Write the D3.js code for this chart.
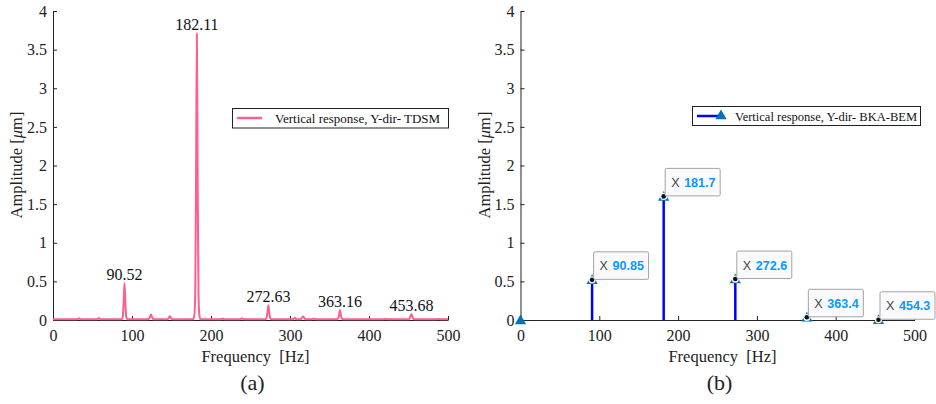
<!DOCTYPE html>
<html>
<head>
<meta charset="utf-8">
<script src="https://cdn.jsdelivr.net/npm/d3@7"></script>
<style>
  body { margin: 0; background: #fff; }
  svg { display: block; }
</style>
</head>
<body>
<svg width="936" height="404"></svg>
<script>
// (a) TDSM spectrum
const freqA = [0,
  31, 33, 35,
  56, 58, 60,
  86, 87.5, 88.5, 89.5, 90.5, 91.5, 92.5, 93.5, 95,
  121, 122.5, 124, 125.5, 127,
  145, 146.5, 148, 149.5, 151,
  177.6, 179.1, 180.1, 181.1, 182.1, 183.1, 184.1, 185.1, 186.6,
  213, 215, 217,
  237, 239, 241,
  268.1, 269.6, 270.6, 271.6, 272.6, 273.6, 274.6, 275.6, 277.1,
  304, 306, 308,
  313.5, 315, 316.5, 318, 319.5,
  328, 330, 332,
  358.7, 360.2, 361.2, 362.2, 363.2, 364.2, 365.2, 366.2, 367.7,
  419, 421, 423,
  450.7, 452.2, 453.7, 455.2, 456.7,
  486, 488, 490,
  500];
const ampA = [0.01,
  0.01, 0.022, 0.01,
  0.01, 0.025, 0.01,
  0.01, 0.015, 0.06, 0.25, 0.48, 0.25, 0.06, 0.015, 0.01,
  0.01, 0.035, 0.07, 0.035, 0.01,
  0.01, 0.025, 0.047, 0.025, 0.01,
  0.01, 0.08, 0.4, 1.9, 3.71, 1.9, 0.4, 0.08, 0.01,
  0.01, 0.02, 0.01,
  0.01, 0.022, 0.01,
  0.01, 0.015, 0.035, 0.11, 0.19, 0.11, 0.035, 0.015, 0.01,
  0.01, 0.03, 0.01,
  0.01, 0.028, 0.045, 0.028, 0.01,
  0.01, 0.018, 0.01,
  0.01, 0.013, 0.027, 0.075, 0.13, 0.075, 0.027, 0.013, 0.01,
  0.01, 0.015, 0.01,
  0.01, 0.04, 0.074, 0.04, 0.01,
  0.01, 0.014, 0.01,
  0.01];
const peakFreqA = [90.52, 182.11, 272.63, 363.16, 453.68];
const peakAmpA = [0.48, 3.71, 0.19, 0.13, 0.074];

// (b) BKA-BEM stems
const freqB = [0, 90.85, 181.7, 272.6, 363.4, 454.3];
const ampB = [0, 0.52, 1.6, 0.53, 0.035, 0.003];

const xTicks = [0, 100, 200, 300, 400, 500];
const yTicks = [0, 0.5, 1, 1.5, 2, 2.5, 3, 3.5, 4];

const serif = "'Liberation Serif', 'DejaVu Serif', serif";
const sans = "'Liberation Sans', Arial, sans-serif";
const pink = "#ff5f8a";

const svg = d3.select('svg');
svg.append('rect').attr('width', 936).attr('height', 404).attr('fill', '#fff');

const yScale = d3.scaleLinear().domain([0, 4]).range([320, 11]);

function drawAxes(x0, x1, label) {
  const xScale = d3.scaleLinear().domain([0, 500]).range([x0, x1]);

  const gx = svg.append('g')
    .attr('transform', 'translate(0,320)')
    .call(d3.axisBottom(xScale).tickValues(xTicks).tickFormat(d => d)
      .tickSize(-4).tickSizeOuter(0).tickPadding(10));
  const gy = svg.append('g')
    .attr('transform', `translate(${x0},0)`)
    .call(d3.axisLeft(yScale).tickValues(yTicks).tickFormat(d => d)
      .tickSize(-4).tickSizeOuter(0).tickPadding(6));
  [gx, gy].forEach(g => {
    g.attr('font-family', serif).attr('font-size', 16);
    g.selectAll('text').attr('fill', '#222');
    g.select('.domain').attr('stroke', '#222');
    g.selectAll('.tick line').attr('stroke', '#222');
  });

  svg.append('text')
    .attr('x', (x0 + x1) / 2 + 5).attr('y', 362)
    .attr('text-anchor', 'middle')
    .attr('font-family', serif).attr('font-size', 16.5).attr('fill', '#222')
    .attr('xml:space', 'preserve')
    .text('Frequency  [Hz]');

  const yl = svg.append('text')
    .attr('transform', `translate(${x0 - 31},165) rotate(-90)`)
    .attr('text-anchor', 'middle')
    .attr('font-family', serif).attr('font-size', 16.5).attr('fill', '#222');
  yl.append('tspan').text('Amplitude [');
  yl.append('tspan').attr('font-style', 'italic').text('\u03bc');
  yl.append('tspan').text('m]');

  svg.append('text')
    .attr('x', (x0 + x1) / 2 + 2).attr('y', 390)
    .attr('text-anchor', 'middle')
    .attr('font-family', serif).attr('font-size', 22).attr('fill', '#222')
    .text(label);

  return xScale;
}

// ---- (a)
const xA = drawAxes(53, 448, '(a)');

const lineA = d3.line()
  .x(d => xA(d[0]))
  .y(d => yScale(d[1]))
  .curve(d3.curveMonotoneX);

svg.append('path')
  .datum(freqA.map((f, i) => [f, ampA[i]]))
  .attr('d', lineA)
  .attr('fill', 'none')
  .attr('stroke', pink)
  .attr('stroke-width', 2)
  .attr('stroke-linejoin', 'round');

svg.selectAll('.peakA')
  .data(peakFreqA)
  .enter()
  .append('text')
  .attr('x', (f) => xA(f))
  .attr('y', (f, i) => yScale(peakAmpA[i]) - 3)
  .attr('text-anchor', 'middle')
  .attr('font-family', serif).attr('font-size', 16).attr('fill', '#111')
  .text((f) => f.toFixed(2));

// legend (a)
svg.append('rect').attr('x', 232.5).attr('y', 108.5).attr('width', 216).attr('height', 19.5)
  .attr('fill', '#fff').attr('stroke', '#222').attr('stroke-width', 1);
svg.append('line').attr('x1', 237).attr('x2', 262).attr('y1', 118).attr('y2', 118)
  .attr('stroke', pink).attr('stroke-width', 2.5);
svg.append('text').attr('x', 275).attr('y', 122.5)
  .attr('font-family', serif).attr('font-size', 13).attr('fill', '#111')
  .text('Vertical response, Y-dir- TDSM');

// ---- (b)
const xB = drawAxes(520.5, 914.5, '(b)');

const tri = d3.symbol().type(d3.symbolTriangle).size(55);

svg.selectAll('.stemB')
  .data(freqB)
  .enter()
  .append('line')
  .attr('x1', (f) => xB(f)).attr('x2', (f) => xB(f))
  .attr('y1', yScale(0))
  .attr('y2', (f, i) => yScale(ampB[i]))
  .attr('stroke', '#0000ff').attr('stroke-width', 2.5);

svg.selectAll('.markB')
  .data(freqB)
  .enter()
  .append('path')
  .attr('d', tri)
  .attr('transform', (f, i) => `translate(${xB(f)},${yScale(ampB[i]) + 1})`)
  .attr('fill', '#0072bd');

// data tips (skip the 0 Hz point)
freqB.forEach((f, i) => {
  if (i === 0) return;
  const px = xB(f), py = yScale(ampB[i]);
  svg.append('circle').attr('cx', px).attr('cy', py).attr('r', 3.6).attr('fill', '#f4f4f4');
  svg.append('circle').attr('cx', px).attr('cy', py).attr('r', 2.3).attr('fill', '#111');

  const bx = px + 1.5, by = py - 28;
  const g = svg.append('g');
  g.append('rect').attr('x', bx).attr('y', by).attr('width', 55).attr('height', 27.5)
    .attr('rx', 1.5)
    .attr('fill', '#fafafd').attr('stroke', '#a3a3a3').attr('stroke-width', 1);
  g.append('text').attr('x', bx + 6).attr('y', by + 18.5)
    .attr('font-family', sans).attr('font-size', 12.5).attr('fill', '#444')
    .text('X');
  g.append('text').attr('x', bx + 19).attr('y', by + 18.5)
    .attr('font-family', sans).attr('font-size', 12.5).attr('font-weight', 'bold').attr('fill', '#0a98ff')
    .text(String(f));
});

// legend (b)
svg.append('rect').attr('x', 692.5).attr('y', 106.5).attr('width', 228).attr('height', 19)
  .attr('fill', '#fff').attr('stroke', '#222').attr('stroke-width', 1);
svg.append('line').attr('x1', 697).attr('x2', 722).attr('y1', 116).attr('y2', 116)
  .attr('stroke', '#0000ff').attr('stroke-width', 2.5);
svg.append('path').attr('d', tri).attr('transform', 'translate(721,116)').attr('fill', '#0072bd');
svg.append('text').attr('x', 735).attr('y', 120.5)
  .attr('font-family', serif).attr('font-size', 12.6).attr('fill', '#111')
  .attr('textLength', 182).attr('lengthAdjust', 'spacingAndGlyphs')
  .text('Vertical response, Y-dir- BKA-BEM');
</script>
</body>
</html>
